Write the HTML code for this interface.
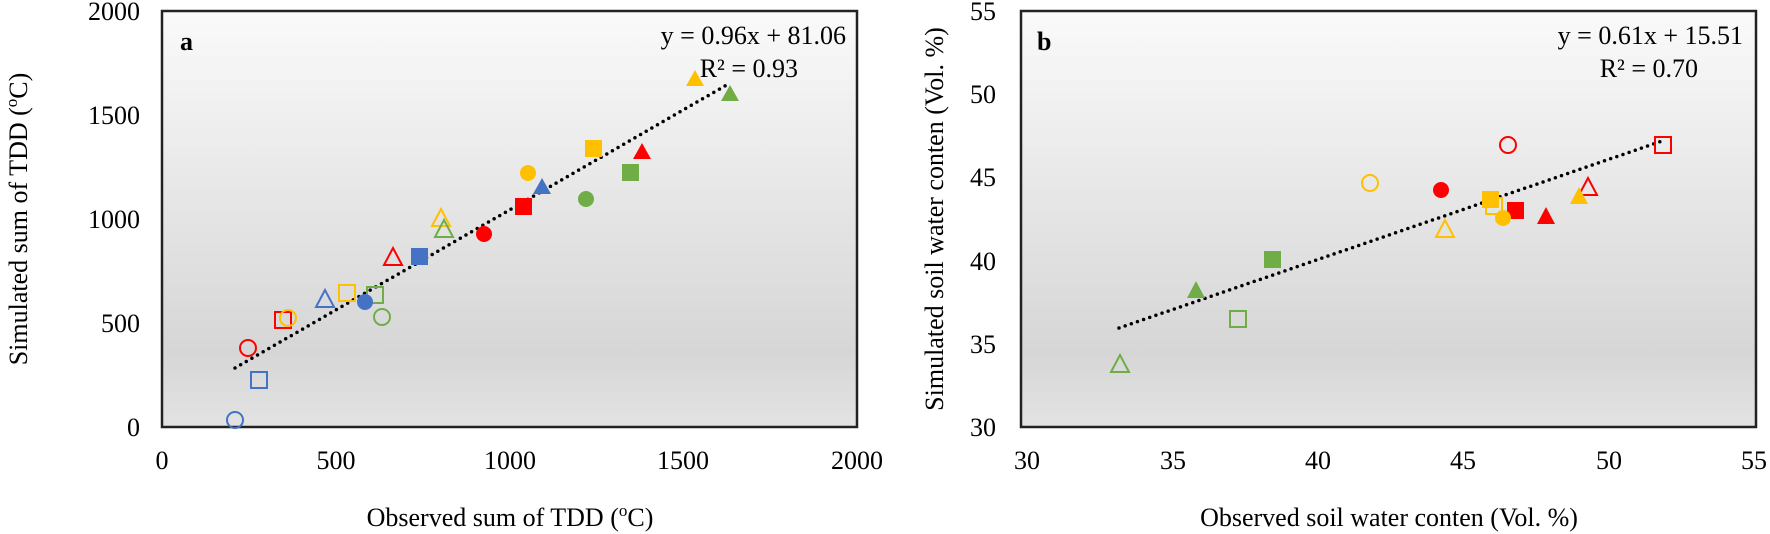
<!DOCTYPE html>
<html><head><meta charset="utf-8"><style>
html,body{margin:0;padding:0;background:#fff;}
svg{display:block;}
text{font-family:"Liberation Serif",serif;fill:#000;}
</style></head><body>
<svg width="1770" height="534" viewBox="0 0 1770 534" xmlns="http://www.w3.org/2000/svg">
<defs>
<linearGradient id="g" x1="0" y1="0" x2="0" y2="1">
<stop offset="0" stop-color="#fafafa"/><stop offset="0.82" stop-color="#d6d6d6"/><stop offset="1" stop-color="#e3e3e3"/>
</linearGradient>
</defs>
<!-- Panel a -->
<rect x="162" y="11" width="695" height="416" fill="url(#g)" stroke="#222" stroke-width="2.5"/>
<g font-size="26" text-anchor="end">
<text x="140" y="436">0</text><text x="140" y="332">500</text><text x="140" y="228">1000</text><text x="140" y="124">1500</text><text x="140" y="20">2000</text>
</g>
<g font-size="26" text-anchor="middle">
<text x="162" y="469">0</text><text x="336" y="469">500</text><text x="510" y="469">1000</text><text x="683" y="469">1500</text><text x="857" y="469">2000</text>
<text x="510" y="526">Observed sum of TDD (<tspan font-size="17" dy="-10">o</tspan><tspan dy="10">C)</tspan></text>
<text transform="translate(27,219) rotate(-90)">Simulated sum of TDD (<tspan font-size="17" dy="-10">o</tspan><tspan dy="10">C)</tspan></text>
</g>
<text x="180" y="50" font-size="26" font-weight="bold">a</text>
<g font-size="26" text-anchor="end"><text x="846" y="44">y = 0.96x + 81.06</text><text x="798" y="77">R² = 0.93</text></g>
<line x1="235" y1="368" x2="730" y2="83" stroke="#000" stroke-width="3.5" stroke-dasharray="0 6.5" stroke-linecap="round"/>
<g stroke-width="2">
<polygon points="695,70 686,86 704,86" fill="#ffc000"/>
<polygon points="730,85 721,101 739,101" fill="#70ad47"/>
<rect x="585" y="140" width="17" height="17" fill="#ffc000"/>
<polygon points="642,143 633,159 651,159" fill="#ff0000"/>
<rect x="622" y="164" width="17" height="17" fill="#70ad47"/>
<circle cx="528" cy="173" r="8" fill="#ffc000"/>
<polygon points="542,178 533,194 551,194" fill="#4472c4"/>
<circle cx="586" cy="199" r="8" fill="#70ad47"/>
<rect x="515" y="198" width="17" height="17" fill="#ff0000"/>
<polygon points="441,209 432,226 450,226" fill="none" stroke="#ffc000"/>
<polygon points="444,220 435,237 453,237" fill="none" stroke="#70ad47"/>
<circle cx="484" cy="234" r="8" fill="#ff0000"/>
<polygon points="393,248 384,265 402,265" fill="none" stroke="#ff0000"/>
<rect x="411" y="248" width="17" height="17" fill="#4472c4"/>
<rect x="339" y="285" width="16" height="16" fill="none" stroke="#ffc000"/>
<rect x="367" y="287" width="16" height="16" fill="none" stroke="#70ad47"/>
<polygon points="325,290 316,307 334,307" fill="none" stroke="#4472c4"/>
<circle cx="365" cy="302" r="8" fill="#4472c4"/>
<circle cx="382" cy="317" r="8" fill="none" stroke="#70ad47"/>
<rect x="275" y="312" width="16" height="16" fill="none" stroke="#ff0000"/>
<circle cx="288" cy="318" r="8" fill="none" stroke="#ffc000"/>
<circle cx="248" cy="348" r="8" fill="none" stroke="#ff0000"/>
<rect x="251" y="372" width="16" height="16" fill="none" stroke="#4472c4"/>
<circle cx="235" cy="420" r="8" fill="none" stroke="#4472c4"/>
</g>

<!-- Panel b -->
<rect x="1021" y="11" width="735" height="416" fill="url(#g)" stroke="#222" stroke-width="2.5"/>
<g font-size="26" text-anchor="end">
<text x="996" y="436">30</text><text x="996" y="353">35</text><text x="996" y="270">40</text><text x="996" y="186">45</text><text x="996" y="103">50</text><text x="996" y="20">55</text>
</g>
<g font-size="26" text-anchor="middle">
<text x="1027" y="469">30</text><text x="1173" y="469">35</text><text x="1318" y="469">40</text><text x="1463" y="469">45</text><text x="1609" y="469">50</text><text x="1754" y="469">55</text>
<text x="1389" y="526">Observed soil water conten (Vol. %)</text>
<text transform="translate(943,219) rotate(-90)">Simulated soil water conten (Vol. %)</text>
</g>
<text x="1037" y="50" font-size="26" font-weight="bold">b</text>
<g font-size="26" text-anchor="end"><text x="1743" y="44">y = 0.61x + 15.51</text><text x="1698" y="77">R² = 0.70</text></g>
<line x1="1119" y1="328" x2="1662" y2="141" stroke="#000" stroke-width="3.5" stroke-dasharray="0 6.5" stroke-linecap="round"/>
<g stroke-width="2">
<circle cx="1508" cy="145" r="8" fill="none" stroke="#ff0000"/>
<circle cx="1370" cy="183" r="8" fill="none" stroke="#ffc000"/>
<circle cx="1441" cy="190" r="8" fill="#ff0000"/>
<rect x="1486" y="198" width="16" height="16" fill="none" stroke="#ffc000"/>
<rect x="1482" y="191" width="17" height="17" fill="#ffc000"/>
<rect x="1507" y="202" width="17" height="17" fill="#ff0000"/>
<circle cx="1503" cy="218" r="8" fill="#ffc000"/>
<polygon points="1546,207 1537,224 1555,224" fill="#ff0000"/>
<polygon points="1588,178 1579,195 1597,195" fill="none" stroke="#ff0000"/>
<polygon points="1579,187 1570,204 1588,204" fill="#ffc000"/>
<rect x="1655" y="137" width="16" height="16" fill="none" stroke="#ff0000"/>
<polygon points="1445,220 1436,237 1454,237" fill="none" stroke="#ffc000"/>
<rect x="1264" y="251" width="17" height="17" fill="#70ad47"/>
<polygon points="1196,281 1187,298 1205,298" fill="#70ad47"/>
<rect x="1230" y="311" width="16" height="16" fill="none" stroke="#70ad47"/>
<polygon points="1120,355 1111,372 1129,372" fill="none" stroke="#70ad47"/>
</g>
</svg>
</body></html>
